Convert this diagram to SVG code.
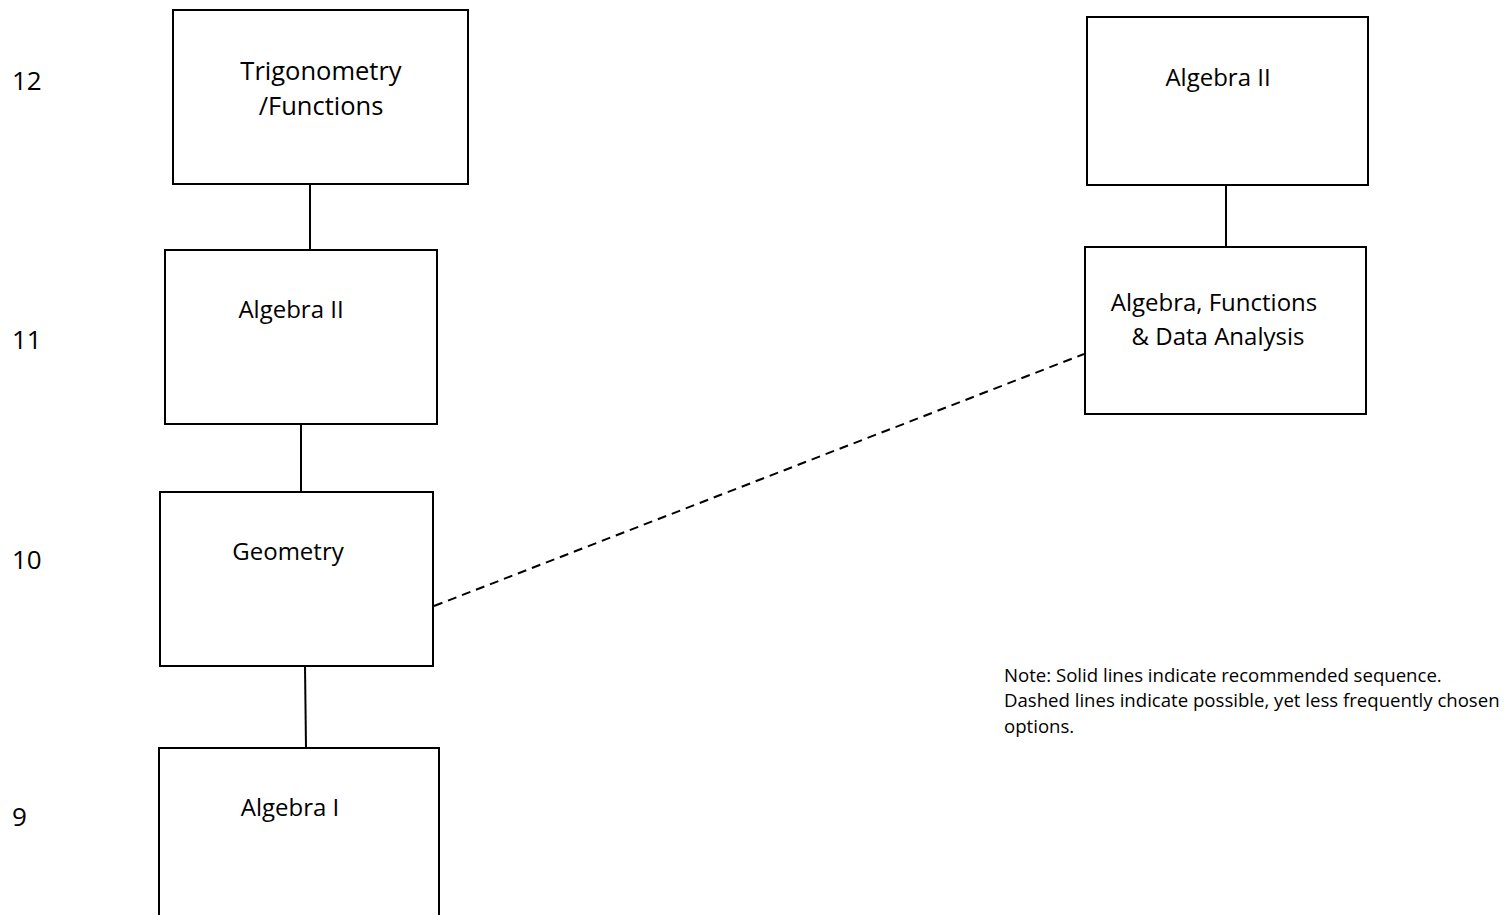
<svg xmlns="http://www.w3.org/2000/svg" width="1505" height="915" viewBox="0 0 1505 915">
<style>
.box{fill:#fff;stroke:#000;stroke-width:2}
.lbl{font-family:"Open Sans","Noto Sans",sans-serif;font-size:24px;fill:#000;text-anchor:middle}
.big{font-size:25.5px}
.row{font-family:"Open Sans","Noto Sans",sans-serif;font-size:26px;fill:#000}
.note{font-family:"Open Sans","Noto Sans",sans-serif;font-size:18.6px;fill:#000}
.solid{stroke:#000;stroke-width:2;fill:none}
.dash{stroke:#000;stroke-width:2;fill:none;stroke-dasharray:9 6}
</style>
<rect width="1505" height="915" fill="#fff"/>
<g id="connectors">
<line class="solid" x1="310" y1="184" x2="310" y2="250"/>
<line class="solid" x1="301" y1="424" x2="301" y2="492"/>
<line class="solid" x1="305" y1="666" x2="306" y2="748"/>
<line class="solid" x1="1226" y1="185" x2="1226" y2="247"/>
<line class="dash" x1="434" y1="606" x2="1084" y2="354"/>
</g>
<g id="row-labels">
<text class="row" x="12" y="90">12</text>
<text class="row" x="12" y="349">11</text>
<text class="row" x="12" y="569">10</text>
<text class="row" x="12" y="826">9</text>
</g>
<g id="trig">
<rect class="box" x="173" y="10" width="295" height="174"/>
<text class="lbl big" x="321" y="80">Trigonometry</text>
<text class="lbl big" x="321" y="115">/Functions</text>
</g>
<g id="algebra2-left">
<rect class="box" x="165" y="250" width="272" height="174"/>
<text class="lbl" x="291" y="318">Algebra II</text>
</g>
<g id="geometry">
<rect class="box" x="160" y="492" width="273" height="174"/>
<text class="lbl" x="288" y="560">Geometry</text>
</g>
<g id="algebra1">
<rect class="box" x="159" y="748" width="280" height="180"/>
<text class="lbl" x="290" y="816">Algebra I</text>
</g>
<g id="algebra2-right">
<rect class="box" x="1087" y="17" width="281" height="168"/>
<text class="lbl" x="1218" y="86">Algebra II</text>
</g>
<g id="afda">
<rect class="box" x="1085" y="247" width="281" height="167"/>
<text class="lbl" x="1214" y="311">Algebra, Functions</text>
<text class="lbl" x="1218" y="345">&amp; Data Analysis</text>
</g>
<g id="note">
<text class="note" x="1004" y="682">Note: Solid lines indicate recommended sequence.</text>
<text class="note" x="1004" y="707">Dashed lines indicate possible, yet less frequently chosen</text>
<text class="note" x="1004" y="733">options.</text>
</g>
</svg>
